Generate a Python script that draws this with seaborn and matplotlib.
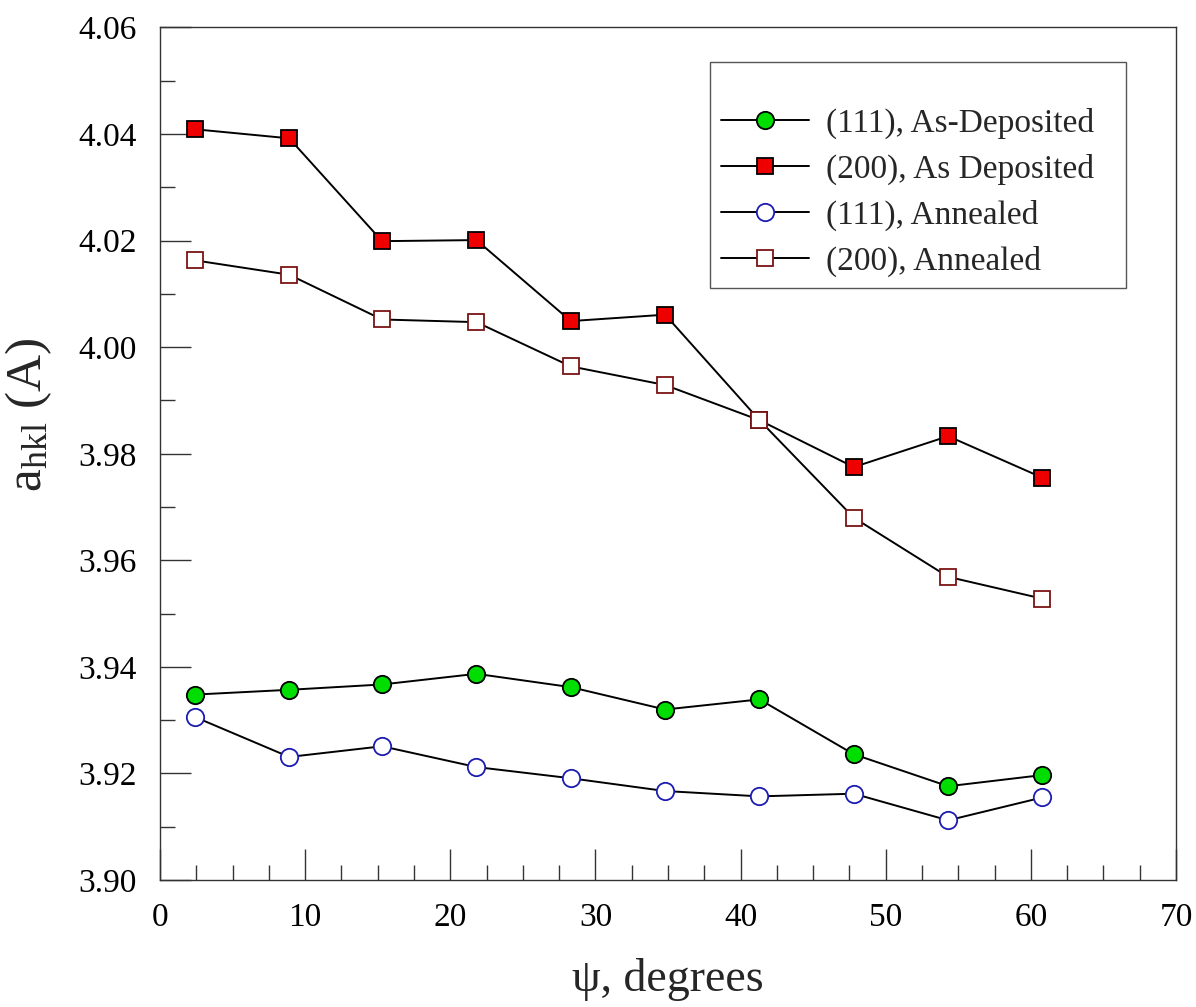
import matplotlib
matplotlib.use("Agg")
import matplotlib.pyplot as plt
from matplotlib.ticker import MultipleLocator, FormatStrFormatter
import seaborn as sns
import pandas as pd

# Tilt angles (psi, degrees)
psi = [2.4, 8.9, 15.3, 21.8, 28.3, 34.8, 41.3, 47.8, 54.3, 60.8]

# Lattice parameter a_hkl (A) for each reflection / condition
a111_dep = [3.9348, 3.9357, 3.9367, 3.9387, 3.9362, 3.9320, 3.9339, 3.9236, 3.9176, 3.9197]
a200_dep = [4.0409, 4.0392, 4.0199, 4.0201, 4.0049, 4.0061, 3.9863, 3.9775, 3.9833, 3.9755]
a111_ann = [3.9306, 3.9231, 3.9251, 3.9212, 3.9191, 3.9167, 3.9157, 3.9162, 3.9112, 3.9155]
a200_ann = [4.0163, 4.0136, 4.0052, 4.0047, 3.9964, 3.9929, 3.9863, 3.9680, 3.9569, 3.9528]

labels = ["(111), As-Deposited", "(200), As Deposited", "(111), Annealed", "(200), Annealed"]

sns.set_theme(style="white")
plt.rcParams["font.family"] = ["Liberation Serif", "DejaVu Serif"]
plt.rcParams["mathtext.fontset"] = "custom"
plt.rcParams["mathtext.rm"] = "Liberation Serif"
plt.rcParams["mathtext.it"] = "Liberation Serif:italic"

fig = plt.figure(figsize=(11.96, 10.07), dpi=100)
ax = fig.add_axes([0.1338, 0.1261, 0.8495, 0.8466])

styles = [
    dict(marker="o", markersize=12.5, markerfacecolor="#00dd00", markeredgecolor="black", markeredgewidth=1.3),
    dict(marker="s", markersize=11.5, markerfacecolor="#ee0000", markeredgecolor="black", markeredgewidth=1.3),
    dict(marker="o", markersize=12.5, markerfacecolor="white", markeredgecolor="#1c1cb0", markeredgewidth=1.3),
    dict(marker="s", markersize=11.5, markerfacecolor="white", markeredgecolor="#7a1414", markeredgewidth=1.3),
]

for vals, lab, st in zip([a111_dep, a200_dep, a111_ann, a200_ann], labels, styles):
    df = pd.DataFrame({"psi": psi, "a": vals})
    sns.lineplot(data=df, x="psi", y="a", ax=ax, color="black", linewidth=1.4,
                 label=lab, legend=False, **st)

ax.set_xlim(0, 70)
ax.set_ylim(3.90, 4.06)
ax.xaxis.set_major_locator(MultipleLocator(10))
ax.xaxis.set_minor_locator(MultipleLocator(2.5))
ax.yaxis.set_major_locator(MultipleLocator(0.02))
ax.yaxis.set_minor_locator(MultipleLocator(0.01))
ax.yaxis.set_major_formatter(FormatStrFormatter("%.2f"))
ax.xaxis.set_major_formatter(FormatStrFormatter("%d"))

ax.tick_params(axis="both", which="both", direction="in", top=False, right=False,
               bottom=True, left=True, colors="#333333", labelcolor="black", width=1.0)
ax.tick_params(axis="both", which="major", length=22, labelsize=24)
ax.tick_params(axis="both", which="minor", length=11)
ax.tick_params(axis="y", which="major", pad=17)
ax.tick_params(axis="x", which="major", pad=16)

for sp in ax.spines.values():
    sp.set_color("#333333")
    sp.set_linewidth(1.0)

ax.set_xlabel("ψ, degrees", fontsize=33)
ax.xaxis.set_label_coords(0.5, -0.092)
ax.set_ylabel(r"a$_{\mathrm{hkl}}$ (A)", fontsize=37)
ax.yaxis.set_label_coords(-0.104, 0.546)

leg = ax.legend(loc="upper left", bbox_to_anchor=(0.5413, 0.5, 0.4094, 0.459),
                mode="expand", fontsize=24, title=" ", title_fontsize=16,
                handlelength=2.64, handletextpad=0.5, labelspacing=0.45,
                borderpad=0.33, borderaxespad=0.0, frameon=True, fancybox=False,
                edgecolor="#555555", framealpha=1)
leg.get_frame().set_linewidth(1.0)

fig.savefig("out.png", dpi=100)
